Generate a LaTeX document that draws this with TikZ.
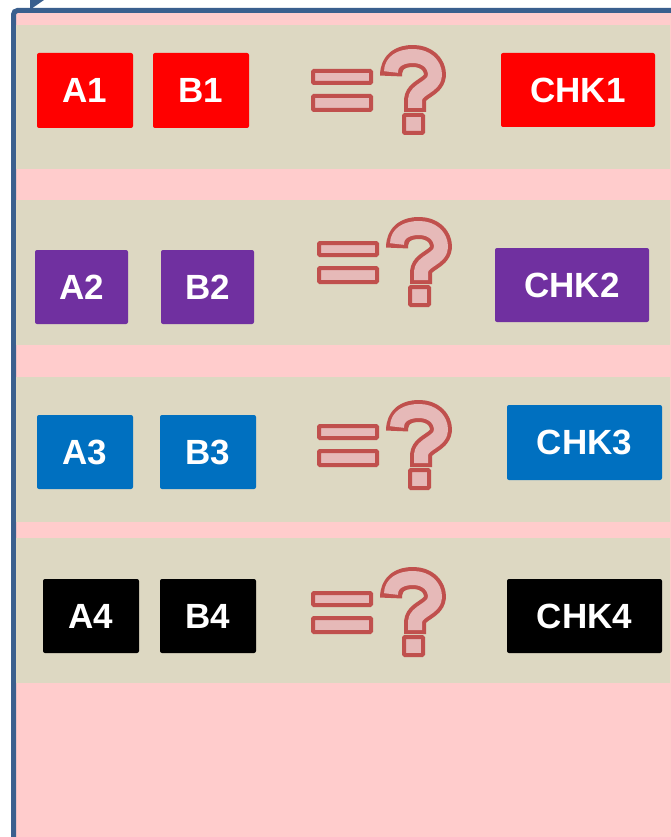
\documentclass[tikz,border=0pt]{standalone}
\usepackage{fontspec}
\setmainfont{Liberation Sans}
\definecolor{frameblue}{HTML}{3A5F8E}
\definecolor{bgpink}{HTML}{FFCCCC}
\definecolor{tan}{HTML}{DDD8C2}
\definecolor{qred}{HTML}{C0504D}
\definecolor{qpink}{HTML}{E6B9B8}
\definecolor{cpurple}{HTML}{7030A0}
\definecolor{cblue}{HTML}{0070C0}
\tikzset{
  box/.style={fill=#1, rounded corners=2pt, inner sep=0pt, outer sep=0pt,
    text=white, font=\fontsize{35}{40}\selectfont\bfseries},
  band/.style={fill=tan, draw=none},
  eqq/.pic={
    \draw[qred, fill=qpink, line width=4pt, rounded corners=1pt] (2,26) rectangle (60,38);
    \draw[qred, fill=qpink, line width=4pt, rounded corners=1pt] (2,51) rectangle (60,65);
    \draw[qred, line width=22pt, line join=round]
      (80,31) .. controls (80,16) and (90,11) .. (102,11)
      .. controls (115,11) and (124,19) .. (124,30)
      .. controls (124,42) and (104,44) .. (104,55) -- (104,67);
    \draw[qpink, line width=14pt, line join=round]
      (80,27) .. controls (80,16) and (90,11) .. (102,11)
      .. controls (115,11) and (124,19) .. (124,30)
      .. controls (124,42) and (104,44) .. (104,55) -- (104,63);
    \draw[qred, fill=qpink, line width=4pt, rounded corners=1pt] (93,70) rectangle (112,88);
  }
}
\begin{document}
\begin{tikzpicture}[x=1pt,y=-1pt]
\useasboundingbox (0,0) rectangle (670,837);
\fill[white] (0,0) rectangle (670,837);
% frame
\fill[bgpink] (13.5,10.5) rectangle (680,850);
\draw[frameblue, line width=5pt, rounded corners=4pt] (680,10.5) -- (13.5,10.5) -- (13.5,850);
\fill[frameblue] (30,0) -- (44,0) -- (31,9) -- (30,9) -- cycle;
% bands
\fill[band] (16,25) rectangle (670,169);
\fill[band] (16,200) rectangle (670,345);
\fill[band] (16,377) rectangle (670,522);
\fill[band] (16,538) rectangle (670,683);
% row 1
\node[box=red, minimum width=96pt, minimum height=75pt] (a1) at (85,90.5) {A1};
\node[box=red, minimum width=96pt, minimum height=75pt] (b1) at (201,90.5) {B1};
\node[box=red, minimum width=154pt, minimum height=74pt] (c1) at (578,90) {CHK1};
% row 2
\node[box=cpurple, minimum width=93pt, minimum height=74pt] (a2) at (81.5,287) {A2};
\node[box=cpurple, minimum width=93pt, minimum height=74pt] (b2) at (207.5,287) {B2};
\node[box=cpurple, minimum width=154pt, minimum height=74pt] (c2) at (572,285) {CHK2};
% row 3
\node[box=cblue, minimum width=96pt, minimum height=74pt] (a3) at (85,452) {A3};
\node[box=cblue, minimum width=96pt, minimum height=74pt] (b3) at (208,452) {B3};
\node[box=cblue, minimum width=155pt, minimum height=75pt] (c3) at (584.5,442.5) {CHK3};
% row 4
\node[box=black, minimum width=96pt, minimum height=74pt] (a4) at (91,616) {A4};
\node[box=black, minimum width=96pt, minimum height=74pt] (b4) at (208,616) {B4};
\node[box=black, minimum width=155pt, minimum height=74pt] (c4) at (584.5,616) {CHK4};
% equals-question symbols
\pic at (311,45) {eqq};
\pic at (317,217) {eqq};
\pic at (317,400) {eqq};
\pic at (311,567) {eqq};
\end{tikzpicture}
\end{document}
